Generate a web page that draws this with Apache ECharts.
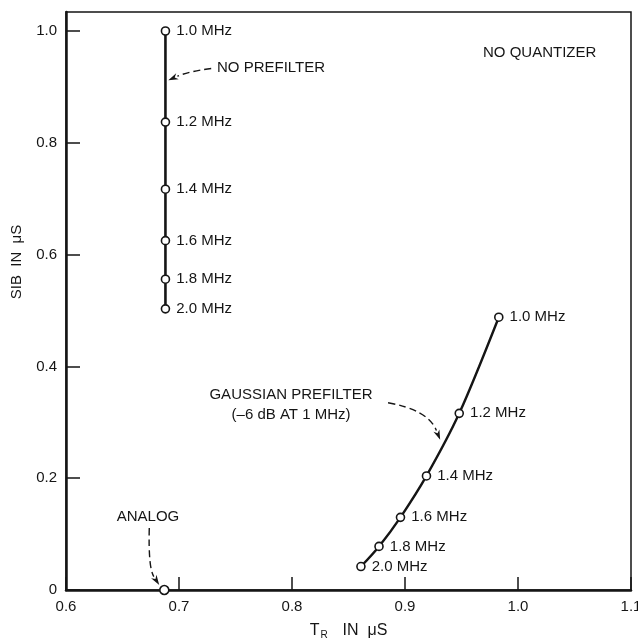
<!DOCTYPE html>
<html>
<head>
<meta charset="utf-8">
<script src="https://cdn.jsdelivr.net/npm/echarts@6/dist/echarts.min.js"></script>
<style>
  html, body { margin: 0; padding: 0; background: #fff; }
  #main { width: 638px; height: 641px; }
</style>
</head>
<body>
<div id="main"></div>
<script>
// point labels (same frequencies on both curves)
const freqLabels = ['1.0 MHz', '1.2 MHz', '1.4 MHz', '1.6 MHz', '1.8 MHz', '2.0 MHz'];

// no prefilter: all at the same T_R
const noPrefilterX = [0.688, 0.688, 0.688, 0.688, 0.688, 0.688];
const noPrefilterY = [1.0, 0.837, 0.717, 0.625, 0.556, 0.503];

// gaussian prefilter (-6 dB at 1 MHz)
const gaussianX = [0.983, 0.948, 0.919, 0.896, 0.877, 0.861];
const gaussianY = [0.488, 0.316, 0.204, 0.130, 0.078, 0.042];

// analog reference point
const analogX = [0.687];
const analogY = [0];

const ink = '#151515';
const font = '"Liberation Sans", Arial, Helvetica, sans-serif';

const chart = echarts.init(document.getElementById('main'), null, { renderer: 'canvas' });

function pairs(xs, ys) {
  return xs.map((x, i) => [x, ys[i]]);
}

const pointLabel = {
  show: true,
  position: 'right',
  distance: 6,
  color: ink,
  fontFamily: font,
  fontSize: 15,
  formatter: p => freqLabels[p.dataIndex]
};

const pointStyle = { color: '#fff', borderColor: ink, borderWidth: 1.6, opacity: 1 };

chart.setOption({
  backgroundColor: '#fff',
  animation: false,
  grid: {
    left: 66, right: 7, top: 12, bottom: 51,
    outerBoundsMode: 'none',
    containLabel: false,
    show: true, borderColor: ink, borderWidth: 1.5
  },
  xAxis: {
    type: 'value',
    min: 0.6, max: 1.1, interval: 0.1,
    splitLine: { show: false },
    axisLine: { lineStyle: { color: ink, width: 2.5 } },
    axisTick: { inside: true, length: 13, lineStyle: { color: ink, width: 1.5 } },
    axisLabel: { color: ink, fontFamily: font, fontSize: 15, margin: 9,
      formatter: v => v.toFixed(1) },
    name: '{t|T}{s|R}{t|  IN  μS}',
    nameLocation: 'middle',
    nameGap: 31,
    nameTextStyle: {
      color: ink, fontFamily: font,
      rich: {
        t: { fontSize: 16, color: ink, fontFamily: font },
        s: { fontSize: 10, color: ink, fontFamily: font, padding: [9, 6, 0, 1] }
      }
    }
  },
  yAxis: {
    type: 'value',
    min: 0, max: 1.034, interval: 0.2,
    splitLine: { show: false },
    axisLine: { lineStyle: { color: ink, width: 2.5 } },
    axisTick: { inside: true, length: 14, lineStyle: { color: ink, width: 1.5 } },
    axisLabel: { color: ink, fontFamily: font, fontSize: 15, margin: 9,
      showMaxLabel: false,
      formatter: v => (v === 0 ? '0' : v.toFixed(1)) }
  },
  series: [
    {
      name: 'No prefilter',
      type: 'line',
      data: pairs(noPrefilterX, noPrefilterY),
      lineStyle: { color: ink, width: 2.6 },
      symbol: 'circle', symbolSize: 8,
      itemStyle: pointStyle,
      label: pointLabel,
      z: 3
    },
    {
      name: 'Gaussian prefilter',
      type: 'line',
      data: pairs(gaussianX, gaussianY),
      smooth: 0.3,
      lineStyle: { color: ink, width: 2.4 },
      symbol: 'circle', symbolSize: 8,
      itemStyle: pointStyle,
      label: pointLabel,
      z: 3
    },
    {
      name: 'Analog',
      type: 'scatter',
      data: pairs(analogX, analogY),
      symbol: 'circle', symbolSize: 9,
      itemStyle: pointStyle,
      z: 4
    }
  ]
});

// dashed annotation arrows, given in data coords (start, control, tip)
const arrows = [
  [[0.7285, 0.933], [0.709, 0.928], [0.6905, 0.912]],
  [[0.885, 0.335], [0.9205, 0.3223], [0.9311, 0.2686]],
  [[0.6737, 0.111], [0.6728, 0.0394], [0.6825, 0.009]]
];

function toPx(p) {
  return chart.convertToPixel({ gridIndex: 0 }, p);
}

const graphics = [];
arrows.forEach(a => {
  const p0 = toPx(a[0]), c = toPx(a[1]), p1 = toPx(a[2]);
  let dx = p1[0] - c[0], dy = p1[1] - c[1];
  const len = Math.hypot(dx, dy);
  dx /= len; dy /= len;
  const hl = 10, hw = 3.2;
  const bx = p1[0] - dx * hl, by = p1[1] - dy * hl;
  graphics.push({
    type: 'bezierCurve',
    shape: { x1: p0[0], y1: p0[1], cpx1: c[0], cpy1: c[1], x2: bx, y2: by },
    style: { stroke: ink, lineWidth: 1.4, lineDash: [7, 4], fill: null },
    z: 10
  });
  graphics.push({
    type: 'polygon',
    shape: { points: [p1, [bx - dy * hw, by + dx * hw], [bx + dx * 3, by + dy * 3], [bx + dy * hw, by - dx * hw]] },
    style: { fill: ink },
    z: 10
  });
});

function note(text, x, y, align) {
  return {
    type: 'text', x: x, y: y, z: 10,
    style: {
      text: text, fill: ink, font: '15px ' + font,
      textAlign: align || 'left', textVerticalAlign: 'middle'
    }
  };
}

graphics.push(note('NO PREFILTER', 217, 68));
graphics.push(note('NO QUANTIZER', 483, 53));
graphics.push(note('GAUSSIAN PREFILTER', 291, 395, 'center'));
graphics.push(note('(–6 dB AT 1 MHz)', 291, 415, 'center'));
graphics.push(note('ANALOG', 148, 517, 'center'));
graphics.push({
  type: 'text', x: 17, y: 262, rotation: Math.PI / 2, z: 10,
  style: {
    text: 'SIB  IN  μS', fill: ink, font: '15px ' + font,
    textAlign: 'center', textVerticalAlign: 'middle'
  }
});

chart.setOption({ graphic: graphics });
</script>
</body>
</html>
